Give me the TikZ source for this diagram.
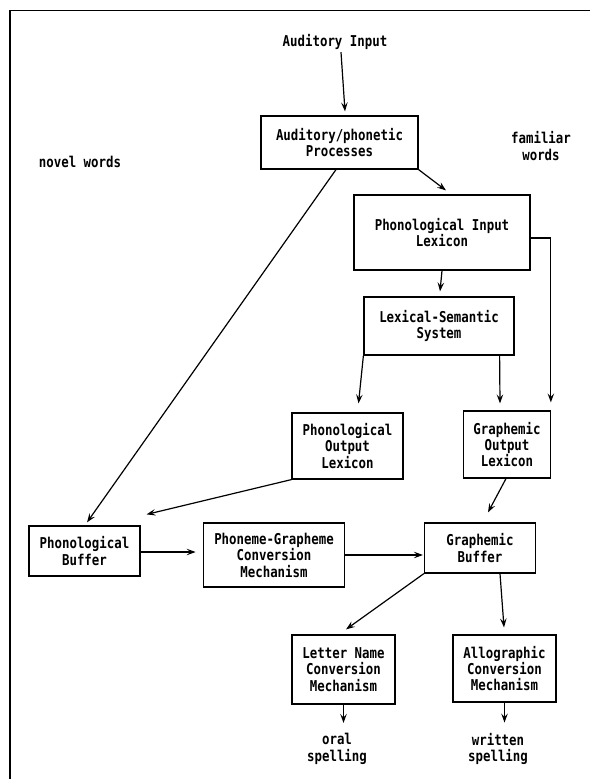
\documentclass[tikz,border=0pt]{standalone}
\usepackage{fontspec}
\setmonofont[FakeStretch=0.83]{DejaVu Sans Mono}
\usepackage{tikz}
\usetikzlibrary{arrows.meta,calc}

\tikzset{
  txt/.style={font=\ttfamily\bfseries\fontsize{15}{16.5}\selectfont, align=center, inner sep=2bp},
  blk/.style={txt, draw, line width=1.2bp},
}

\begin{document}
\begin{tikzpicture}[x=1bp,y=-1bp,line width=1.2bp,
    >={Stealth[length=9bp,width=6.5bp,inset=3.5bp]}]
  \useasboundingbox (0,0) rectangle (590,779);
  \draw[line width=1.6bp] (590,10.5) -- (10,10.5) -- (10,779);

  \node[txt] (audin) at (335,42) {Auditory Input};
  \node[txt] (novel) at (80,162) {novel words};
  \node[txt] (familiar) at (541,146) {familiar\\words};
  \node[blk, minimum width=157bp, minimum height=53bp] (app) at (339.5,142.5) {Auditory/phonetic\\Processes};
  \node[blk, minimum width=176bp, minimum height=75bp] (pil) at (442,232.5) {Phonological Input\\Lexicon};
  \node[blk, minimum width=150bp, minimum height=58bp] (lss) at (439,326) {Lexical-Semantic\\System};
  \node[blk, minimum width=111bp, minimum height=66bp] (pol) at (347.5,446) {Phonological\\Output\\Lexicon};
  \node[blk, minimum width=86.5bp, minimum height=67bp] (gol) at (507,444.5) {Graphemic\\Output\\Lexicon};
  \node[blk, minimum width=111bp, minimum height=50bp] (pb) at (84.5,551) {Phonological\\Buffer};
  \node[blk, minimum width=141.5bp, minimum height=64bp] (pgcm) at (274,555) {Phoneme-Grapheme\\Conversion\\Mechanism};
  \node[blk, minimum width=111bp, minimum height=50bp] (gb) at (480,548) {Graphemic\\Buffer};
  \node[blk, minimum width=103bp, minimum height=69bp] (lncm) at (343.5,669.5) {Letter Name\\Conversion\\Mechanism};
  \node[blk, minimum width=103bp, minimum height=67bp] (acm) at (504.5,668.5) {Allographic\\Conversion\\Mechanism};
  \node[txt] (oral) at (337,749) {oral\\spelling};
  \node[txt] (written) at (498,749) {written\\spelling};

  \path[->]
    ($(audin.south)+(6,0)$) edge ($(app.north)+(5.5,-4)$)
    (app.south east) edge ($(pil.north)+(4,-4)$)
    ($(app.south)+(-3.5,0)$) edge ($(pb.north)+(2.5,-3)$)
    (pil.south) edge ($(lss.north)+(1,-5)$)
    (lss.south west) edge ($(pol.north)+(11,-9)$)
    ($(lss.south east)+(-15,0)$) edge ($(gol.north)+(-7,-7)$)
    (pol.south west) edge ($(pb.north east)+(6,-11)$)
    ($(gol.south)+(-1,0)$) edge ($(gb.north)+(8,-10)$)
    ($(pb.east)+(0,1)$) edge ($(pgcm.west)+(-7,-3)$)
    (pgcm.east) edge ($(gb.west)+(-1,7)$)
    (gb.south west) edge ($(lncm.north)+(2.5,-5)$)
    ($(gb.south)+(20,0)$) edge ($(acm.north)+(-0.5,-7)$)
    (lncm.south) edge[shorten >=8bp] (lncm.south |- oral.north)
    (acm.south) edge[shorten >=8bp] (acm.south |- written.north);
  \draw[->] ($(pil.east)+(0,5.5)$) -| ($(gol.north east)+(0,-8)$);
\end{tikzpicture}
\end{document}
